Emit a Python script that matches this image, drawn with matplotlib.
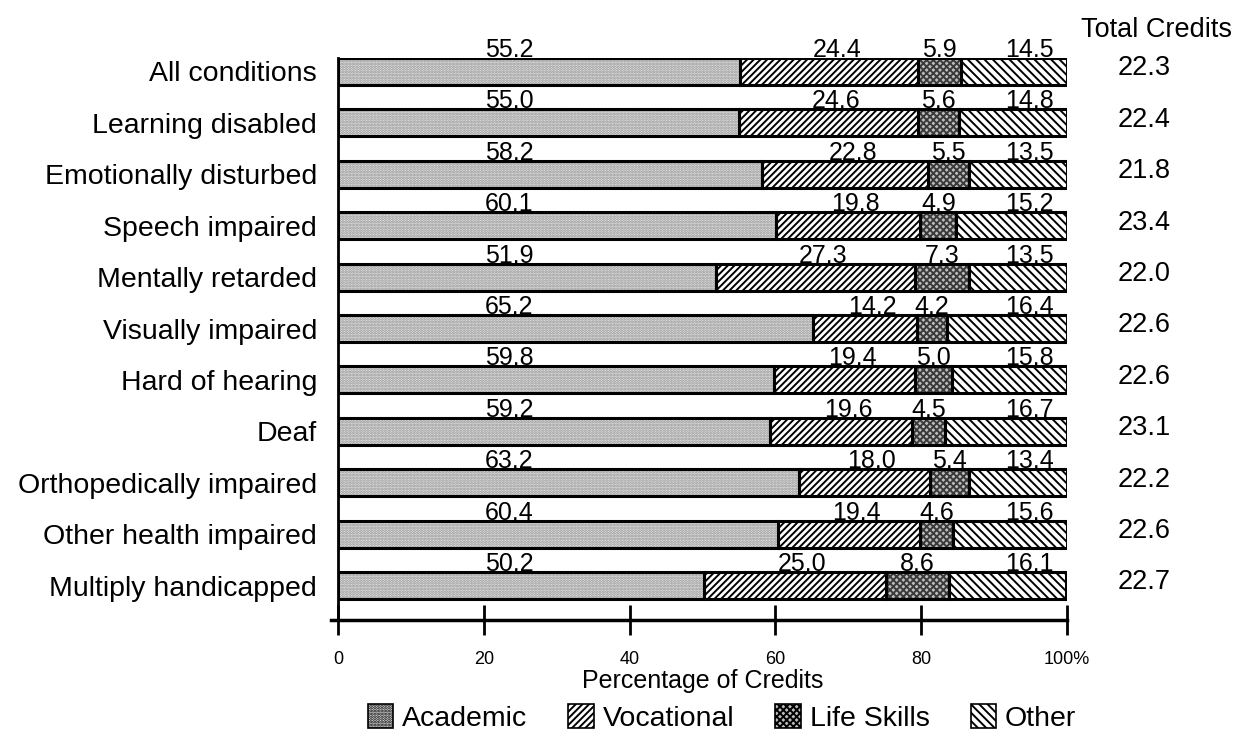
import matplotlib
matplotlib.use("Agg")
import matplotlib.pyplot as plt
from matplotlib.patches import Patch
import numpy as np

plt.rcParams['font.family'] = ['Liberation Sans', 'DejaVu Sans']
plt.rcParams['hatch.linewidth'] = 1.4

categories = ["All conditions", "Learning disabled", "Emotionally disturbed",
              "Speech impaired", "Mentally retarded", "Visually impaired",
              "Hard of hearing", "Deaf", "Orthopedically impaired",
              "Other health impaired", "Multiply handicapped"]
academic = [55.2, 55.0, 58.2, 60.1, 51.9, 65.2, 59.8, 59.2, 63.2, 60.4, 50.2]
vocational = [24.4, 24.6, 22.8, 19.8, 27.3, 14.2, 19.4, 19.6, 18.0, 19.4, 25.0]
life_skills = [5.9, 5.6, 5.5, 4.9, 7.3, 4.2, 5.0, 4.5, 5.4, 4.6, 8.6]
other = [14.5, 14.8, 13.5, 15.2, 13.5, 16.4, 15.8, 16.7, 13.4, 15.6, 16.1]
total_credits = ["22.3", "22.4", "21.8", "23.4", "22.0", "22.6", "22.6", "23.1", "22.2", "22.6", "22.7"]
series_names = ["Academic", "Vocational", "Life Skills", "Other"]
xticks = [0, 20, 40, 60, 80, 100]
xticklabels = ["0", "20", "40", "60", "80", "100%"]

W, H = 1246, 742
fig = plt.figure(figsize=(W / 100, H / 100), dpi=100)
ax_left, ax_right = 338 / W, 1067 / W
ax_top, ax_bot = 1 - 58 / H, 1 - 620 / H
ax = fig.add_axes([ax_left, ax_bot, ax_right - ax_left, ax_top - ax_bot])

n = len(categories)
y = np.arange(n)
h = 0.525

styles = [
    dict(facecolor="#e6e6e6", hatch="......", hcolor="#909090"),
    dict(facecolor="white", hatch="/////", hcolor="black"),
    dict(facecolor="#bdbdbd", hatch="xxxxx", hcolor="#3a3a3a"),
    dict(facecolor="white", hatch="\\\\\\\\", hcolor="black"),
]

series = [academic, vocational, life_skills, other]
left = np.zeros(n)
for vals, st in zip(series, styles):
    vals = np.array(vals)
    ax.barh(y, vals, left=left, height=h, color=st["facecolor"],
            hatch=st["hatch"], edgecolor=st["hcolor"], linewidth=0, zorder=2)
    ax.barh(y, vals, left=left, height=h, fill=False, edgecolor="black",
            linewidth=2.2, zorder=3)
    left = left + vals

# value labels
for i in range(n):
    top = y[i] - h / 2 - 0.02
    a, v, l, o = academic[i], vocational[i], life_skills[i], other[i]
    ax.text(23.5, top, f"{a:.1f}", ha="center", va="baseline", fontsize=18, zorder=4)
    ax.text(a + v / 2 + 1.0, top, f"{v:.1f}", ha="center", va="baseline", fontsize=18, zorder=4)
    ax.text(a + v + l / 2, top, f"{l:.1f}", ha="center", va="baseline", fontsize=18, zorder=4)
    ax.text(94.8, top, f"{o:.1f}", ha="center", va="baseline", fontsize=18, zorder=4)
    ax.text(110.6, y[i] - 0.06, total_credits[i], ha="center", va="center",
            fontsize=19.5, clip_on=False)

ax.text(112.3, -0.80, "Total Credits", ha="center", va="center", fontsize=19.5, clip_on=False)

ax.set_xlim(0, 100)
ax.set_ylim(10.67, -h / 2)
ax.set_yticks(y)
ax.set_yticklabels(categories, fontsize=20.5)
ax.tick_params(axis="y", length=0, pad=15)
ax.set_xticks(xticks)
ax.set_xticklabels(xticklabels, fontsize=13)
ax.tick_params(axis="x", direction="inout", length=22, width=2, pad=11)
for s in ["top", "right"]:
    ax.spines[s].set_visible(False)
ax.spines["left"].set_linewidth(2)
ax.spines["bottom"].set_linewidth(2.5)
ax.spines["bottom"].set_bounds(-1, 100)
ax.set_xlabel("Percentage of Credits", fontsize=18, labelpad=1)

handles = []
for name, st in zip(series_names, styles):
    handles.append(Patch(facecolor=st["facecolor"], hatch=st["hatch"],
                         edgecolor="black", linewidth=1.2, label=name))
fig.legend(handles=handles, loc="center", bbox_to_anchor=(722 / W, 1 - 718 / H),
           ncol=4, frameon=False, fontsize=20.5, handlelength=0.9, handleheight=0.9,
           handletextpad=0.3, columnspacing=1.45)

fig.savefig("out.png", dpi=100)
